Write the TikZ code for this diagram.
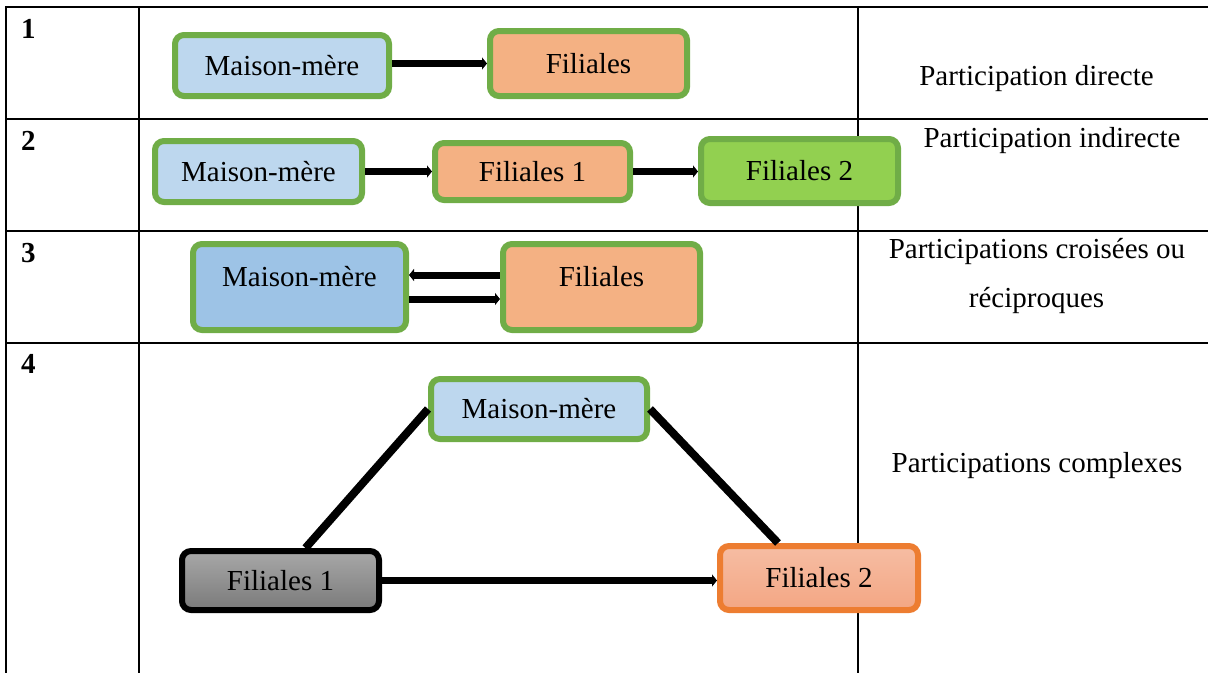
\documentclass[tikz,border=0pt]{standalone}
\usepackage{fontspec}
\setmainfont{Liberation Serif}
\usetikzlibrary{arrows.meta}
\definecolor{gframe}{HTML}{70AD47}
\definecolor{lblue}{HTML}{BDD7EE}
\definecolor{mblue}{HTML}{9DC3E6}
\definecolor{ofill}{HTML}{F4B183}
\definecolor{gfill}{HTML}{92D050}
\definecolor{oframe}{HTML}{ED7D31}
\definecolor{otop}{RGB}{246,189,163}
\definecolor{obot}{RGB}{243,166,131}
\definecolor{gtop}{RGB}{168,168,168}
\definecolor{gbot}{RGB}{122,122,122}
\begin{document}
\begin{tikzpicture}[x=1pt,y=-1pt,
  rule/.style={line width=2pt, black},
  txt/.style={font=\fontsize{29}{35}\selectfont, inner sep=0pt},
  num/.style={font=\fontsize{29}{35}\selectfont\bfseries, inner sep=0pt, anchor=base west},
  box/.style={draw=gframe, line width=6pt, rounded corners=9pt, inner sep=0pt,
    font=\fontsize{29}{35}\selectfont},
  arr/.style={line width=7pt, -{Triangle[length=5pt,width=12pt]}},
  link/.style={line width=8pt},
  linkarr/.style={line width=7pt, -{Triangle[length=5pt,width=12pt]}}
]
\useasboundingbox (0,0) rectangle (1208,673);

% table rules
\draw[rule] (6,7) -- (1208,7);
\draw[rule] (6,119) -- (1208,119);
\draw[rule] (6,231) -- (1208,231);
\draw[rule] (6,343) -- (1208,343);
\draw[rule] (6,6) -- (6,673);
\draw[rule] (139,6) -- (139,673);
\draw[rule] (858,6) -- (858,673);

% row numbers
\node[num] (n1) at (21,38) {1};
\node[num] (n2) at (21,150) {2};
\node[num] (n3) at (21,262) {3};
\node[num] (n4) at (21,373) {4};

% descriptions
\node[txt, anchor=base] (d1) at (1036.5,85) {Participation directe};
\node[txt, anchor=base] (d2) at (1052,147) {Participation indirecte};
\node[txt, anchor=base] (d3a) at (1037,258) {Participations croisées ou};
\node[txt, anchor=base] (d3b) at (1036.5,307) {réciproques};
\node[txt, anchor=base] (d4) at (1037,472) {Participations complexes};

% row 1: direct
\node[box, fill=lblue, minimum width=214pt, minimum height=61pt] (m1) at (282,65.5) {Maison-mère};
\node[box, fill=ofill, minimum width=197pt, minimum height=65pt] (f1) at (588.5,63.5) {Filiales};
\draw[arr] (m1.east |- f1.west) -- (f1.west);

% row 2: indirect
\node[box, fill=lblue, minimum width=207pt, minimum height=61pt] (m2) at (258.5,171.5) {Maison-mère};
\node[box, fill=ofill, minimum width=195pt, minimum height=57pt] (f21) at (532.5,171.5) {Filiales 1};
\node[box, fill=gfill, minimum width=197pt, minimum height=64pt] (f22) at (799.5,171) {Filiales 2};
\draw[arr] (m2.east) -- (f21.west);
\draw[arr] (f21.east) -- (f21.east -| f22.west);

% row 3: crossed
\node[box, fill=mblue, minimum width=213pt, minimum height=86pt,
  label={[txt, yshift=10pt]center:Maison-mère}] (m3) at (299.5,287) {};
\node[box, fill=ofill, minimum width=197pt, minimum height=86pt,
  label={[txt, yshift=10pt]center:Filiales}] (f3) at (601.5,287) {};
\coordinate (u1) at ([yshift=12pt]f3.west);
\coordinate (u2) at ([yshift=-12pt]m3.east);
\draw[arr] (u1) -- (u1 -| m3.east);
\draw[arr] (u2) -- (u2 -| f3.west);

% row 4: complex
\node[box, fill=lblue, minimum width=216pt, minimum height=60pt] (m4) at (539,409) {Maison-mère};
\node[box, draw=black, top color=gtop, bottom color=gbot, minimum width=197pt, minimum height=59pt] (g1) at (280.5,580.5) {Filiales 1};
\node[box, draw=oframe, top color=otop, bottom color=obot, minimum width=198pt, minimum height=64pt] (g2) at (819,578) {Filiales 2};
\draw[link] (m4.west) -- ([xshift=25pt]g1.north);
\draw[link] (m4.east) -- ([xshift=-41pt]g2.north);
\draw[linkarr] (g1.east) -- (g1.east -| g2.west);
\end{tikzpicture}
\end{document}
